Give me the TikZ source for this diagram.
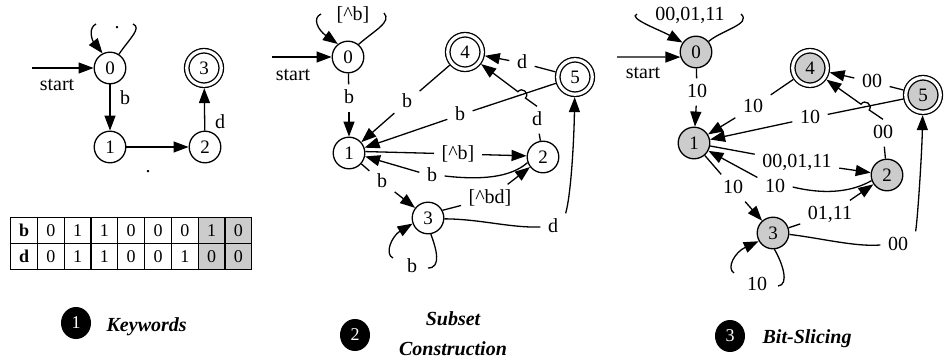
\documentclass[tikz,border=0pt]{standalone}
\usepackage{fontspec}
\setmainfont{Liberation Serif}
\usetikzlibrary{arrows.meta,matrix,shapes.geometric}
\begin{document}
\begin{tikzpicture}[x=1pt,y=-1pt,line width=1.3pt,
  txt/.style={font=\fontsize{20}{24}\selectfont, inner sep=0pt},
  state/.style={circle, draw, minimum size=31.6pt, inner sep=0pt, font=\fontsize{19}{22}\selectfont},
  accept/.style={state, double, double distance=3.2pt, minimum size=34.5pt, outer sep=2.9pt},
  shade/.style={fill=gray!40},
  lab/.style={font=\fontsize{20}{24}\selectfont, inner xsep=7pt, inner ysep=5pt, text height=13pt, text depth=3pt},
  arr/.style={-{Triangle[length=15pt,width=11pt]}},
  badge/.style={ellipse, fill=black, text=white, minimum width=30pt, minimum height=32pt, inner sep=0pt, font=\fontsize{18}{20}\selectfont},
  captxt/.style={font=\fontsize{20}{30}\selectfont\bfseries\itshape, inner sep=0pt}]
\useasboundingbox (0,0) rectangle (946,364);

% ---------- keyword automaton ----------
\node[state]  (L0) at (110,68)  {0};
\node[state]  (L1) at (110,147) {1};
\node[state]  (L2) at (205,147) {2};
\node[accept] (L3) at (204,68)  {3};
\coordinate (Ls) at (32,68);
\draw[arr] (Ls) -- (L0);
\node[txt] (Lst) at (57,85) {start};
\draw (L0.57) .. controls (130,38) and (142,28) .. (133,24);
\draw[arr] (96,24) .. controls (88,28) and (92,40) .. (L0.117);
\node[txt] (Ldot0) at (117,28) {.};
\draw[arr] (L0) -- (L1);
\node[txt] (Lb) at (125,98) {b};
\draw[arr] (L1) -- (L2);
\node[txt] (Ldot1) at (148,172) {.};
\draw[arr] (L2) -- (L3);
\node[txt] (Ld) at (220,122) {d};

% bit table
\matrix (bits) [matrix of nodes, anchor=north west, column sep=-1.3pt, row sep=-1.3pt,
  nodes={draw, minimum width=26.8pt, minimum height=26pt, inner sep=0pt,
         font=\fontsize{18}{20}\selectfont, text height=12.5pt, text depth=0pt}] at (6,213) {
  \textbf{b} & 0 & 1 & 1 & 0 & 0 & 0 & |[shade]| 1 & |[shade]| 0 \\
  \textbf{d} & 0 & 1 & 1 & 0 & 0 & 1 & |[shade]| 0 & |[shade]| 0 \\
};

% ---------- subset construction ----------
\node[state]  (M0) at (348,57)  {0};
\node[state]  (M1) at (349,153) {1};
\node[state]  (M2) at (543,157) {2};
\node[state]  (M3) at (428,218) {3};
\node[accept] (M4) at (465,52)  {4};
\node[accept] (M5) at (575,77)  {5};

\node[lab] (lM00) at (353,15)  {[\textasciicircum b]};
\node[lab] (lM01) at (349,98)  {b};
\node[lab] (lM41) at (407,102) {b};
\node[lab] (lM51) at (460,115) {b};
\node[lab] (lM54) at (522,63)  {d};
\node[lab] (lM24) at (537,120) {d};
\node[lab] (lM12) at (458,154) {[\textasciicircum b]};
\node[lab] (lM21) at (432,176) {b};
\node[lab] (lM13) at (382,182) {b};
\node[lab] (lM32) at (490,198) {[\textasciicircum bd]};
\node[lab] (lM35) at (553,227) {d};
\node[lab] (lM33) at (412,267) {b};

\coordinate (Ms) at (272,57);
\draw[arr] (Ms) -- (M0);
\node[txt] (Mst) at (293,75) {start};
\draw (M0.50) .. controls (375,30) and (392,22) .. (384,13);
\draw[arr] (321,14) .. controls (312,18) and (318,30) .. (M0.128);
\draw (M0) -- (lM01);  \draw[arr] (lM01) -- (M1);
\draw (M4) -- (lM41);  \draw[arr] (lM41) -- (M1);
\draw (M5) -- (lM51);  \draw[arr] (lM51) -- (M1);
\draw (M5) -- (lM54);  \draw[arr] (lM54) -- (M4);
\draw (M2) -- (lM24);
\draw[arr] (lM24.north) -- (525.5,98.1) .. controls (529.8,93.0) and (522.2,86.6) .. (517.9,91.7) -- (M4);
\draw (M1.5) -- (lM12);  \draw[arr] (lM12) -- (M2.176);
\draw (M2.200) .. controls (510,178) and (480,180) .. (lM21.east);
\draw[arr] (lM21) -- (M1.-12);
\draw (M1) -- (lM13);  \draw[arr] (lM13) -- (M3);
\draw (M3.28) -- (lM32);  \draw[arr] (lM32) -- (M2);
\draw (M3.-3) .. controls (480,219) and (510,228) .. (lM35.west);
\draw[arr] (lM35.north east) .. controls (571,195) and (574,140) .. (M5);
\draw (M3.-80) .. controls (436,248) and (442,268) .. (428,268);
\draw[arr] (393,258) .. controls (384,254) and (392,236) .. (M3.200);

% ---------- bit-sliced automaton ----------
\node[state,shade]  (R0) at (696,52)  {0};
\node[state,shade]  (R1) at (694,143) {1};
\node[state,shade]  (R2) at (887,175) {2};
\node[state,shade]  (R3) at (773,233) {3};
\node[accept,shade] (R4) at (810,68)  {4};
\node[accept,shade] (R5) at (923,95)  {5};

\node[lab] (lR00) at (690,15)  {00,01,11};
\node[lab] (lR01) at (697,92)  {10};
\node[lab] (lR41) at (753,107) {10};
\node[lab] (lR51) at (810,118) {10};
\node[lab] (lR54) at (872,82)  {00};
\node[lab] (lR24) at (883,133) {00};
\node[lab] (lR12) at (797,162) {00,01,11};
\node[lab] (lR21) at (775,187) {10};
\node[lab] (lR13) at (733,188) {10};
\node[lab] (lR32) at (830,214) {01,11};
\node[lab] (lR35) at (898,245) {00};
\node[lab] (lR33) at (757,285) {10};

\coordinate (Rs) at (617,57);
\draw[arr] (Rs) -- (R0.198);
\node[txt] (Rst) at (643,73) {start};
\draw (R0.40) .. controls (722,30) and (752,24) .. (741,14);
\draw[arr] (637,14) .. controls (627,18) and (660,30) .. (R0.145);
\draw (R0) -- (lR01);  \draw[arr] (lR01) -- (R1);
\draw (R4) -- (lR41);  \draw[arr] (lR41) -- (R1);
\draw (R5) -- (lR51);  \draw[arr] (lR51) -- (R1);
\draw (R5) -- (lR54);  \draw[arr] (lR54) -- (R4);
\draw (R2) -- (lR24);
\draw[arr] (lR24.north) -- (869.2,110.0) .. controls (873.1,104.6) and (864.9,98.8) .. (861.0,104.2) -- (R4);
\draw (R1) -- (lR12);  \draw[arr] (lR12) -- (R2);
\draw (R2.200) .. controls (855,190) and (830,196) .. (lR21.east);
\draw[arr] (lR21) -- (R1);
\draw (R1) -- (lR13);  \draw[arr] (lR13) -- (R3);
\draw (R3) -- (lR32);  \draw[arr] (lR32) -- (R2);
\draw (R3.-5) .. controls (820,238) and (855,247) .. (lR35.west);
\draw[arr] (lR35.north east) .. controls (918,215) and (922,150) .. (R5);
\draw (R3.-85) .. controls (782,262) and (790,285) .. (778,286);
\draw[arr] (734,273) .. controls (726,268) and (735,252) .. (R3.210);

% ---------- captions ----------
\node[badge] (B1) at (76,323) {1};
\node[captxt, anchor=west] (K1) at (106,327) {Keywords};
\node[badge] (B2) at (355,335) {2};
\node[captxt, align=center] (K2) at (453,334) {Subset\\Construction};
\node[badge] (B3) at (730,336) {3};
\node[captxt, anchor=west] (K3) at (762,339) {Bit-Slicing};
\end{tikzpicture}
\end{document}
